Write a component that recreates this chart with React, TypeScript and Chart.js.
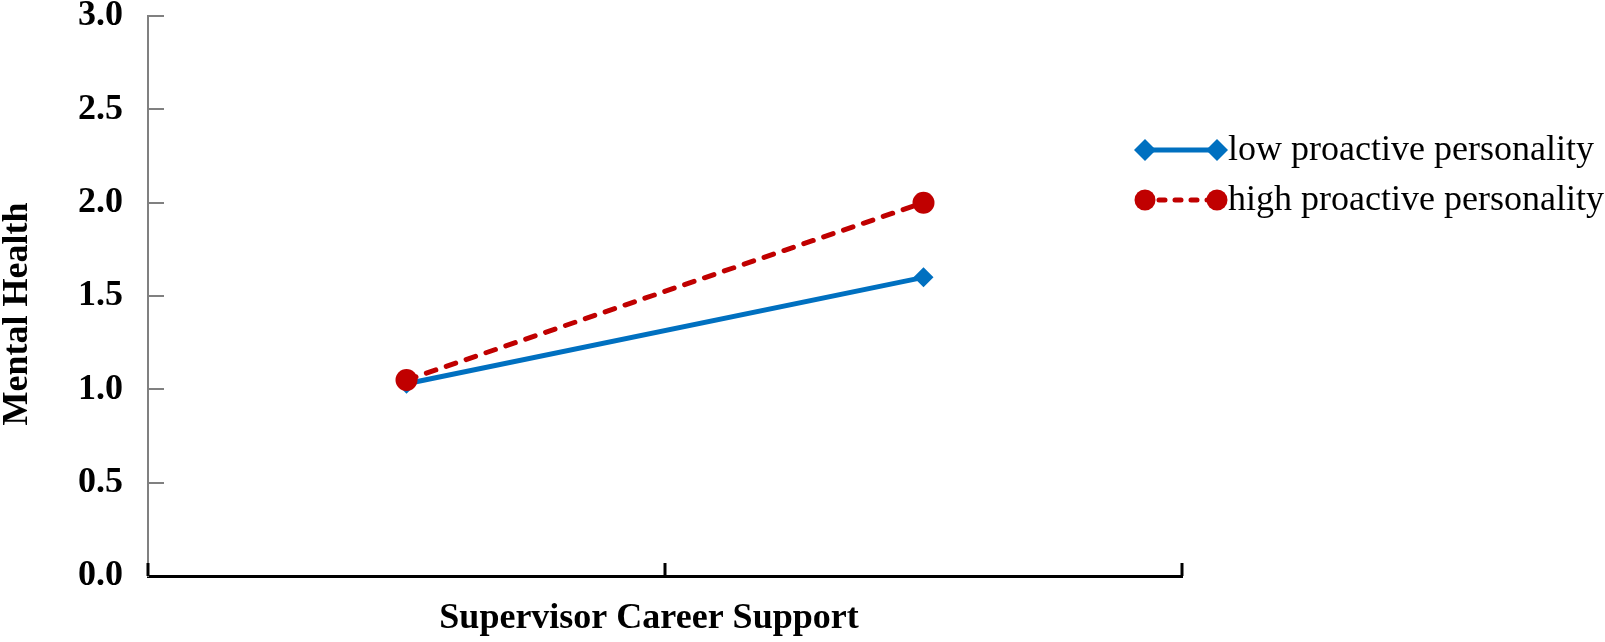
import React, { useEffect, useRef } from "react";
import { Chart, registerables } from "chart.js";

Chart.register(...registerables);

const categories = ["Low", "High"];
const lowSeries = [1.03, 1.6];
const highSeries = [1.05, 2.0];
const seriesLabels = ["low proactive personality", "high proactive personality"];
const yTitle = "Mental Health";
const xTitle = "Supervisor Career Support";
const yMin = 0;
const yMax = 3;
const yStep = 0.5;

const BLUE = "#0070C0";
const RED = "#C00000";
const FONT = "'Liberation Serif', 'Times New Roman', serif";

function drawDiamond(ctx: CanvasRenderingContext2D, x: number, y: number, r: number, color: string) {
  ctx.save();
  ctx.fillStyle = color;
  ctx.beginPath();
  ctx.moveTo(x, y - r);
  ctx.lineTo(x + r, y);
  ctx.lineTo(x, y + r);
  ctx.lineTo(x - r, y);
  ctx.closePath();
  ctx.fill();
  ctx.restore();
}

function drawCircle(ctx: CanvasRenderingContext2D, x: number, y: number, r: number, color: string) {
  ctx.save();
  ctx.fillStyle = color;
  ctx.beginPath();
  ctx.arc(x, y, r, 0, Math.PI * 2);
  ctx.fill();
  ctx.restore();
}

const customPlugin = {
  id: "customAxesLegend",
  afterDraw(chart: any) {
    const ctx: CanvasRenderingContext2D = chart.ctx;
    const xs = chart.scales.x;
    const ys = chart.scales.y;
    const area = chart.chartArea;
    ctx.save();
    // inner y ticks
    ctx.strokeStyle = "#808080";
    ctx.lineWidth = 2;
    for (let v = yMin + yStep; v <= yMax + 1e-9; v += yStep) {
      const py = Math.round(ys.getPixelForValue(v));
      ctx.beginPath();
      ctx.moveTo(area.left, py);
      ctx.lineTo(area.left + 16, py);
      ctx.stroke();
    }
    // inner x ticks at category boundaries
    ctx.strokeStyle = "#000000";
    ctx.lineWidth = 3;
    const n = categories.length;
    for (let i = 0; i <= n; i++) {
      const px = Math.round(xs.getPixelForValue(i - 0.5));
      ctx.beginPath();
      ctx.moveTo(px, area.bottom);
      ctx.lineTo(px, area.bottom - 13);
      ctx.stroke();
    }
    // x title
    ctx.fillStyle = "#000";
    ctx.font = `bold 36px ${FONT}`;
    ctx.textAlign = "center";
    ctx.textBaseline = "middle";
    ctx.fillText(xTitle, (area.left + area.right) / 2 - 16, 619);

    // y title (rotated)
    ctx.save();
    ctx.translate(18, 314);
    ctx.rotate(-Math.PI / 2);
    ctx.font = `bold 36px ${FONT}`;
    ctx.textAlign = "center";
    ctx.textBaseline = "middle";
    ctx.fillText(yTitle, 0, 0);
    ctx.restore();

    // legend
    const rows = [
      { label: seriesLabels[0], color: BLUE, dash: [] as number[], marker: "diamond", y: 150 },
      { label: seriesLabels[1], color: RED, dash: [6, 10], marker: "circle", y: 200 },
    ];
    const x0 = 1145;
    const x1 = 1217;
    rows.forEach((r) => {
      ctx.save();
      ctx.strokeStyle = r.color;
      ctx.lineWidth = 5;
      ctx.setLineDash(r.dash);
      ctx.lineCap = r.dash.length ? "round" : "butt";
      ctx.beginPath();
      ctx.moveTo(x0 + (r.dash.length ? 14 : 0), r.y);
      ctx.lineTo(x1, r.y);
      ctx.stroke();
      ctx.restore();
      if (r.marker === "diamond") {
        drawDiamond(ctx, x0, r.y, 11, r.color);
        drawDiamond(ctx, x1, r.y, 11, r.color);
      } else {
        drawCircle(ctx, x0, r.y, 10.5, r.color);
        drawCircle(ctx, x1, r.y, 10.5, r.color);
      }
      ctx.fillStyle = "#000";
      ctx.font = `36px ${FONT}`;
      ctx.textAlign = "left";
      ctx.textBaseline = "middle";
      ctx.fillText(r.label, 1228, r.y + 1);
    });
    ctx.restore();
  },
};

export default function App() {
  const canvasRef = useRef<HTMLCanvasElement | null>(null);

  useEffect(() => {
    if (!canvasRef.current) return;
    const chart = new Chart(canvasRef.current, {
      type: "line",
      data: {
        labels: categories,
        datasets: [
          {
            label: seriesLabels[0],
            data: lowSeries,
            borderColor: BLUE,
            backgroundColor: BLUE,
            borderWidth: 5,
            pointStyle: "rectRot",
            pointRadius: 10,
            pointBorderWidth: 0,
            pointBackgroundColor: BLUE,
            tension: 0,
            order: 1,
          },
          {
            label: seriesLabels[1],
            data: highSeries,
            borderColor: RED,
            backgroundColor: RED,
            borderWidth: 5,
            borderDash: [10, 11],
            borderCapStyle: "round",
            pointStyle: "circle",
            pointRadius: 11,
            pointBorderWidth: 0,
            pointBackgroundColor: RED,
            tension: 0,
            order: 0,
          },
        ],
      },
      options: {
        animation: false,
        responsive: true,
        maintainAspectRatio: false,
        layout: { padding: { left: 0, right: 423, top: 16, bottom: 0 } },
        plugins: {
          legend: { display: false },
          tooltip: { enabled: false },
        },
        scales: {
          x: {
            type: "category",
            offset: true,
            grid: { display: false, drawTicks: false },
            ticks: { display: false },
            border: { display: true, color: "#000000", width: 3 },
            afterFit: (s: any) => {
              s.height = 66;
              s.paddingLeft = 0;
              s.paddingRight = 0;
            },
          },
          y: {
            min: yMin,
            max: yMax,
            grid: { display: false, drawTicks: false },
            border: { display: true, color: "#808080", width: 2 },
            ticks: {
              stepSize: yStep,
              padding: 25,
              color: "#000",
              font: { family: FONT, size: 36, weight: "bold", lineHeight: 1 },
              callback: (v: any) => Number(v).toFixed(1),
            },
            title: { display: false, text: yTitle },
            afterFit: (s: any) => {
              s.width = 148;
              s.paddingTop = 0;
              s.paddingBottom = 0;
            },
          },
        },
      },
      plugins: [customPlugin],
    });
    return () => chart.destroy();
  }, []);

  return (
    <div style={{ position: "fixed", left: 0, top: 0, width: 1605, height: 642, background: "#fff" }}>
      <canvas ref={canvasRef} />
    </div>
  );
}
